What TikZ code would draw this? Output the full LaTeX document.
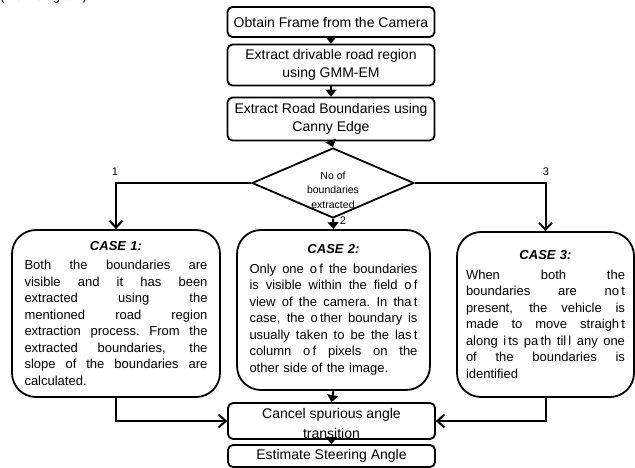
\documentclass[tikz,border=0pt]{standalone}
\usepackage{fontspec}
\setmainfont{Liberation Sans}
\usetikzlibrary{arrows.meta,shapes.geometric}
\newlength\jw
\newcommand\jline[1]{\leavevmode\hbox to \jw{\spaceskip=0.28em plus 1fil\relax\xspaceskip=0.28em plus 1fil\relax #1}}
\newcommand\lline[1]{\leavevmode\hbox to \jw{#1\hfil}}
\begin{document}
\begin{tikzpicture}[x=1pt,y=-1pt,
  box/.style={draw,line width=1.8pt,rounded corners=5pt,minimum width=207pt,inner sep=0pt,align=center,font=\fontsize{14}{18.5}\selectfont},
  casebox/.style={draw,line width=1.8pt,rounded corners=24pt,inner sep=0pt,align=center,font=\fontsize{13}{16.5}\selectfont},
  conn/.style={line width=2pt},
  sarr/.style={conn,-{Triangle[length=7pt,width=11pt]}},
  barr/.style={conn,-{Straight Barb[length=7pt,width=13pt]}},
  lbl/.style={font=\fontsize{11}{13}\selectfont,inner sep=0pt}]
\useasboundingbox (0,0) rectangle (635,468);
\node[anchor=base west,font=\fontsize{13}{13}\selectfont,inner sep=0pt] (cut) at (0,1) {(Flow diagram)};

\node[box,minimum height=30pt] (b1) at (331,22) {Obtain Frame from the Camera};
\node[box,minimum height=41pt] (b2) at (331,65) {Extract drivable road region\\using GMM-EM};
\node[box,minimum height=43pt] (b3) at (331,119) {Extract Road Boundaries using\\Canny Edge};

\node[draw,diamond,line width=1.8pt,minimum width=162pt,minimum height=70pt,inner sep=0pt] (d) at (333,183) {};
\node[align=center,inner sep=0pt,font=\fontsize{10.5}{14.5}\selectfont] (dt) at (333,190) {No of\\boundaries\\extracted};

\node[casebox,minimum width=208pt,minimum height=167pt,text width=183pt] (c1) at (116,313.5) {\setlength\jw{183pt}%
\textbf{\textit{CASE 1:}}\\[3pt]
\jline{Both the boundaries are}\\
\jline{visible and it has been}\\
\jline{extracted using the}\\
\jline{mentioned road region}\\
\jline{extraction process. From the}\\
\jline{extracted boundaries, the}\\
\jline{slope of the boundaries are}\\
\lline{calculated.}};

\node[casebox,minimum width=193pt,minimum height=160pt,text width=168pt] (c2) at (333.5,310) {\setlength\jw{168pt}%
\textbf{\textit{CASE 2:}}\\[3pt]
\jline{Only one o\,f the boundaries}\\
\jline{is visible within the field o\,f}\\
\jline{view of the camera. In tha\,t}\\
\jline{case, the o\,ther boundary is}\\
\jline{usually taken to be the las\,t}\\
\jline{column o\,f pixels on the}\\
\lline{other side of the image.}};

\node[casebox,minimum width=177pt,minimum height=165pt,text width=159pt] (c3) at (545.5,314.5) {\setlength\jw{159pt}%
\textbf{\textit{CASE 3:}}\\[3pt]
\jline{When both the}\\
\jline{boundaries are no\,t}\\
\jline{present, the vehicle is}\\
\jline{made to move straigh\,t}\\
\jline{along i\,ts pa\,th til\,l any one}\\
\jline{of the boundaries is}\\
\lline{identified}};

\node[box,minimum height=36pt] (cs) at (331.5,421) {};
\node[align=center,inner sep=0pt,font=\fontsize{14}{20}\selectfont] (cst) at (331.5,423) {Cancel spurious angle\\transition};
\node[box,minimum height=22pt] (es) at (331.5,456) {Estimate Steering Angle};

\draw[sarr] (b1.south) -- (b2.north);
\draw[sarr] (b2.south) -- (b3.north);
\draw[sarr] (b3.south) -- (d.north);
\draw[barr] (d.west) -| (c1.north);
\draw[barr] (d.east) -| (c3.north);
\draw[sarr] (d.south) -- (c2.north);
\draw[sarr] (c2.south) -- (cs.north);
\draw[sarr] (cs.south) -- (es.north);
\draw[barr] (c1.south) |- (cs.west);
\draw[barr] (c3.south) |- (cs.east);

\node[lbl] (l1) at (115,172) {1};
\node[lbl] (l3) at (546,172) {3};
\node[lbl] (l2) at (343,221) {2};
\end{tikzpicture}
\end{document}
